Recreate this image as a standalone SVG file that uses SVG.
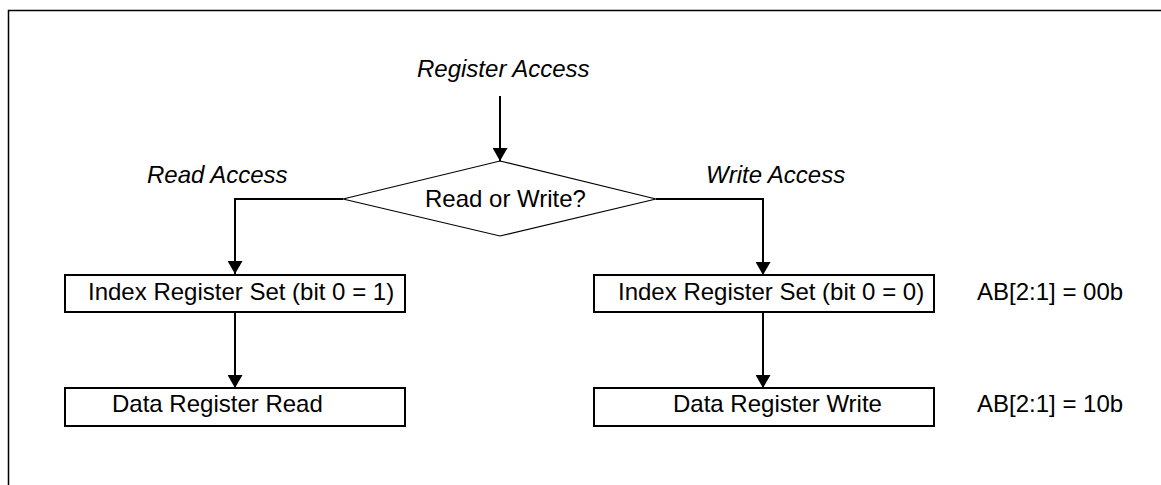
<svg xmlns="http://www.w3.org/2000/svg" width="1161" height="485" viewBox="0 0 1161 485">
  <style>
    .t { font-family: "Liberation Sans", Arial, sans-serif; font-size: 24px; fill: #000; }
    .i { font-style: italic; }
    .box { fill: #fff; stroke: #000; stroke-width: 2; }
    .dia { fill: #fff; stroke: #000; stroke-width: 1.2; }
    .conn { fill: none; stroke: #000; stroke-width: 2; }
  </style>
  <defs>
    <marker id="arr" markerUnits="userSpaceOnUse" viewBox="0 0 13 15" markerWidth="13" markerHeight="15" refX="13" refY="7.5" orient="auto">
      <path d="M0,0 L13,7.5 L0,15 z" fill="#000"/>
    </marker>
  </defs>
  <rect width="1161" height="485" fill="#fff"/>
  <path d="M8.5,486 V10.5 H1162" fill="none" stroke="#000" stroke-width="1.5"/>

  <g id="connectors">
    <path class="conn" d="M500,96 V161" marker-end="url(#arr)"/>
    <path class="conn" d="M343,199 H235 V274" marker-end="url(#arr)"/>
    <path class="conn" d="M656,199 H763 V275" marker-end="url(#arr)"/>
    <path class="conn" d="M235,312 V388" marker-end="url(#arr)"/>
    <path class="conn" d="M763,312 V388" marker-end="url(#arr)"/>
  </g>

  <g id="label-register-access">
    <text class="t i" x="417" y="77">Register Access</text>
  </g>
  <g id="label-read-access">
    <text class="t i" x="147" y="183">Read Access</text>
  </g>
  <g id="label-write-access">
    <text class="t i" x="706" y="183">Write Access</text>
  </g>

  <g id="decision">
    <polygon class="dia" points="500,161 656,199 500,236 343,199"/>
    <text class="t" x="425" y="207">Read or Write?</text>
  </g>

  <g id="index-read">
    <rect class="box" x="65" y="275" width="340" height="37"/>
    <text class="t" x="88" y="300">Index Register Set (bit 0 = 1)</text>
  </g>
  <g id="data-read">
    <rect class="box" x="65" y="388" width="340" height="38"/>
    <text class="t" x="112" y="412">Data Register Read</text>
  </g>
  <g id="index-write">
    <rect class="box" x="594" y="275" width="340" height="37"/>
    <text class="t" x="618" y="300">Index Register Set (bit 0 = 0)</text>
  </g>
  <g id="data-write">
    <rect class="box" x="594" y="388" width="340" height="38"/>
    <text class="t" x="673" y="412">Data Register Write</text>
  </g>

  <g id="note-00b">
    <text class="t" x="977" y="300">AB[2:1] = 00b</text>
  </g>
  <g id="note-10b">
    <text class="t" x="977" y="412">AB[2:1] = 10b</text>
  </g>
</svg>
